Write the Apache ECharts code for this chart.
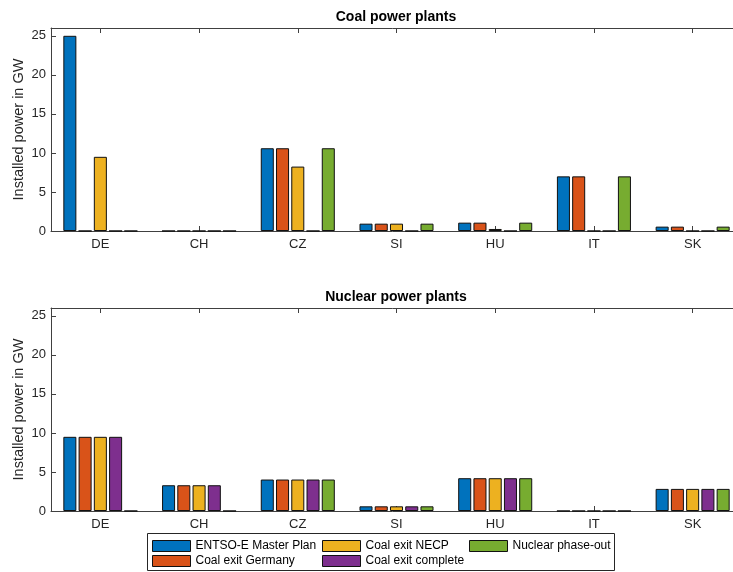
<!DOCTYPE html>
<html>
<head>
<meta charset="utf-8">
<script src="https://cdn.jsdelivr.net/npm/echarts@6/dist/echarts.min.js"></script>
<style>html,body{margin:0;padding:0;background:#fff}#c{width:733px;height:572px}</style>
</head>
<body>
<div id="c"></div>
<script>
const categories = ['DE', 'CH', 'CZ', 'SI', 'HU', 'IT', 'SK'];
const scenarioNames = ['ENTSO-E Master Plan', 'Coal exit Germany', 'Coal exit NECP', 'Coal exit complete', 'Nuclear phase-out'];
const colors = ['#0072BD', '#D95319', '#EDB120', '#7E2F8E', '#77AC30'];

// Coal power plants (GW)
const coalMasterPlan   = [25.0, 0, 10.6, 0.94, 1.07, 7.0, 0.56];
const coalExitGermany  = [0,    0, 10.6, 0.94, 1.07, 7.0, 0.56];
const coalExitNECP     = [9.5,  0, 8.25, 0.94, 0.26, 0,   0];
const coalExitComplete = [0,    0, 0,    0,    0,    0,   0];
const coalNuclearOut   = [0,    0, 10.6, 0.94, 1.07, 7.0, 0.56];

// Nuclear power plants (GW)
const nucMasterPlan   = [9.5, 3.3, 4.03, 0.6, 4.2, 0, 2.83];
const nucExitGermany  = [9.5, 3.3, 4.03, 0.6, 4.2, 0, 2.83];
const nucExitNECP     = [9.5, 3.3, 4.03, 0.6, 4.2, 0, 2.83];
const nucExitComplete = [9.5, 3.3, 4.03, 0.6, 4.2, 0, 2.83];
const nucNuclearOut   = [0,   0,   4.03, 0.6, 4.2, 0, 2.83];

const yMax = 26;
const yInterval = 5;
const panelTitles = ['Coal power plants', 'Nuclear power plants'];
const yAxisName = 'Installed power in GW';

const coalData = [coalMasterPlan, coalExitGermany, coalExitNECP, coalExitComplete, coalNuclearOut];
const nucData = [nucMasterPlan, nucExitGermany, nucExitNECP, nucExitComplete, nucNuclearOut];

const FONT = 'Liberation Sans, Arial, Helvetica, sans-serif';
const AX = '#404040';
const TXT = '#262626';

const grids = [
  {left: 51, right: -9, top: 28, height: 203, outerBoundsMode: 'none', containLabel: false},
  {left: 51, right: -9, top: 308, height: 203, outerBoundsMode: 'none', containLabel: false}
];

const xAxes = [];
const yAxes = [];
[0, 1].forEach(i => {
  xAxes.push({
    type: 'category', gridIndex: i, data: categories, position: 'bottom',
    axisLine: {show: true, lineStyle: {color: AX, width: 1}},
    axisTick: {show: true, inside: true, alignWithLabel: true, length: 5, lineStyle: {color: AX}},
    axisLabel: {color: TXT, fontFamily: FONT, fontSize: 13, margin: 7}
  });
  xAxes.push({
    type: 'category', gridIndex: i, data: categories, position: 'top',
    axisLine: {show: true, lineStyle: {color: AX, width: 1}},
    axisTick: {show: true, inside: true, alignWithLabel: true, length: 5, lineStyle: {color: AX}},
    axisLabel: {show: false}
  });
  yAxes.push({
    type: 'value', gridIndex: i, min: 0, max: yMax, interval: yInterval,
    name: yAxisName, nameLocation: 'middle', nameGap: 25, nameMoveOverlap: false,
    nameTextStyle: {color: TXT, fontFamily: FONT, fontSize: 14.5},
    axisLine: {show: true, lineStyle: {color: AX, width: 1}},
    axisTick: {show: true, inside: true, length: 5, lineStyle: {color: AX}},
    axisLabel: {color: TXT, fontFamily: FONT, fontSize: 13, margin: 5, showMaxLabel: false,
      formatter: v => (v % yInterval === 0 ? String(v) : '')},
    splitLine: {show: false}
  });
});

const series = [];
[coalData, nucData].forEach((set, gi) => {
  set.forEach((arr, si) => {
    series.push({
      name: scenarioNames[si], type: 'bar',
      xAxisIndex: gi * 2, yAxisIndex: gi,
      data: arr,
      barCategoryGap: '25%', barGap: '17%',
      itemStyle: {color: colors[si], borderColor: '#111', borderWidth: 1},
      emphasis: {disabled: true},
      animation: false
    });
  });
});

const legendBase = {
  orient: 'vertical', icon: 'rect', itemWidth: 38, itemHeight: 11, itemGap: 3, itemTextGap: 4,
  textStyle: {color: '#000', fontFamily: FONT, fontSize: 12, lineHeight: 12},
  itemStyle: {borderColor: '#111', borderWidth: 1},
  selectedMode: false, padding: 0, top: 540
};

const option = {
  animation: false,
  backgroundColor: '#fff',
  grid: grids,
  xAxis: xAxes,
  yAxis: yAxes,
  legend: [
    Object.assign({}, legendBase, {left: 152, data: [scenarioNames[0], scenarioNames[1]]}),
    Object.assign({}, legendBase, {left: 322, data: [scenarioNames[2], scenarioNames[3]]}),
    Object.assign({}, legendBase, {left: 469, data: [scenarioNames[4]]})
  ],
  graphic: [
    {
      type: 'rect', z: -1, shape: {x: 147.5, y: 533.5, width: 467, height: 37},
      style: {fill: '#fff', stroke: '#262626', lineWidth: 1}
    },
    {
      type: 'text', x: 396, y: 17.5,
      style: {text: panelTitles[0], align: 'center', verticalAlign: 'middle',
        font: 'bold 14px Liberation Sans, Arial, sans-serif', fill: '#000'}
    },
    {
      type: 'text', x: 396, y: 297.5,
      style: {text: panelTitles[1], align: 'center', verticalAlign: 'middle',
        font: 'bold 14px Liberation Sans, Arial, sans-serif', fill: '#000'}
    }
  ],
  series: series
};

const chart = echarts.init(document.getElementById('c'), null, {renderer: 'canvas'});
chart.setOption(option);
</script>
</body>
</html>
